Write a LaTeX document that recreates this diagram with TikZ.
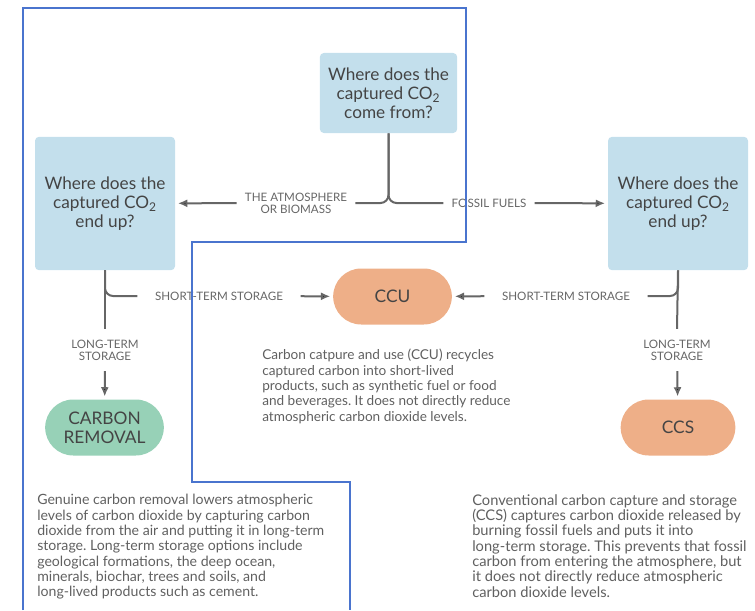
\documentclass[tikz,border=0pt]{standalone}
\usepackage{fontspec}
\setmainfont{Lato}
\usetikzlibrary{arrows.meta,shapes.misc}
\definecolor{qblue}{HTML}{C3DFEC}
\definecolor{ccuorange}{HTML}{EEAF88}
\definecolor{crgreen}{HTML}{97D1B7}
\definecolor{inkgray}{HTML}{444444}
\definecolor{wiregray}{HTML}{666666}
\definecolor{framebl}{HTML}{4A74CE}
\frenchspacing

\begin{document}
\begin{tikzpicture}[x=0.75pt, y=-0.75pt,
  question/.style={fill=qblue, rounded corners=3pt, align=center, text=inkgray,
    font=\fontsize{12.9}{14.3}\selectfont, inner sep=2pt},
  outcome/.style={rounded rectangle, align=center, text=inkgray, minimum width=93pt,
    minimum height=42pt, font=\fontsize{13}{14.3}\selectfont, inner sep=2pt},
  tag/.style={align=center, text=wiregray, font=\fontsize{8.7}{9}\selectfont, inner sep=6pt},
  blurb/.style={align=left, text=inkgray!85, font=\fontsize{10.2}{11.5}\selectfont, inner sep=0pt},
  wire/.style={draw=wiregray, line width=1.5pt, rounded corners=6pt},
  flow/.style={draw=wiregray, line width=1.5pt, -{Latex[length=7pt,width=6pt]}, shorten >=2pt}]
  \useasboundingbox (0,0) rectangle (755,610);

  \node[question, minimum width=103pt, minimum height=60pt] (src) at (388.5,93)
    {Where does the\\captured CO\textsubscript{2}\\come from?};
  \node[question, minimum width=105pt, minimum height=100pt] (endL) at (105,203.5)
    {Where does the\\captured CO\textsubscript{2}\\end up?};
  \node[question, minimum width=105pt, minimum height=100pt] (endR) at (678,203.5)
    {Where does the\\captured CO\textsubscript{2}\\end up?};

  \node[tag] (atm) at (296,203) {THE ATMOSPHERE\\OR BIOMASS};
  \node[tag] (fossil) at (489,203) {FOSSIL FUELS};
  \node[tag, inner xsep=13pt] (shortL) at (219,296) {SHORT-TERM STORAGE};
  \node[tag, inner xsep=13pt] (shortR) at (566,296) {SHORT-TERM STORAGE};
  \node[tag, inner sep=8pt] (longL) at (105,350) {LONG-TERM\\STORAGE};
  \node[tag, inner sep=8pt] (longR) at (677,350) {LONG-TERM\\STORAGE};

  \node[outcome, fill=ccuorange] (ccu) at (392.5,296.5) {CCU};
  \node[outcome, fill=crgreen] (removal) at (104.5,427.5) {CARBON\\REMOVAL};
  \node[outcome, fill=ccuorange, minimum width=90pt] (ccs) at (678,427.5) {CCS};

  \node[blurb, anchor=north west] (ccutext) at (262,349)
    {Carbon catpure and use (CCU) recycles\\captured carbon into short-lived\\products, such as synthetic fuel or food\\and beverages. It does not directly reduce\\atmospheric carbon dioxide levels.};
  \node[blurb, font=\fontsize{10.6}{11.5}\selectfont, anchor=north west] (removaltext) at (37,494)
    {Genuine carbon removal lowers atmospheric\\levels of carbon dioxide by capturing carbon\\dioxide from the air and putting it in long-term\\storage. Long-term storage options include\\geological formations, the deep ocean,\\minerals, biochar, trees and soils, and\\long-lived products such as cement.};
  \node[blurb, font=\fontsize{11}{11.5}\selectfont, anchor=north west] (ccstext) at (472,494)
    {Conventional carbon capture and storage\\(CCS) captures carbon dioxide released by\\burning fossil fuels and puts it into\\long-term storage. This prevents that fossil\\carbon from entering the atmosphere, but\\it does not directly reduce atmospheric\\carbon dioxide levels.};

  \draw[wire] (src.south) |- (atm.east);
  \draw[wire] (src.south) |- (fossil.west);
  \draw[wire] (endL.south) |- (shortL.west);
  \draw[wire] (endL.south) -- (longL.north);
  \draw[wire] (endR.south) |- (shortR.east);
  \draw[wire] (endR.south) -- (longR.north);

  \path[flow]
  (atm) edge (endL)
  (fossil) edge (endR)
  (shortL) edge (ccu)
  (shortR) edge (ccu)
  (longL) edge (removal)
  (longR) edge (ccs)
  ;

  \draw[framebl, line width=0.9pt] (23,610) -- (23,8) -- (466,8) -- (466,242) -- (192,242)
    -- (192,482) -- (350,482) -- (350,610);
\end{tikzpicture}
\end{document}
